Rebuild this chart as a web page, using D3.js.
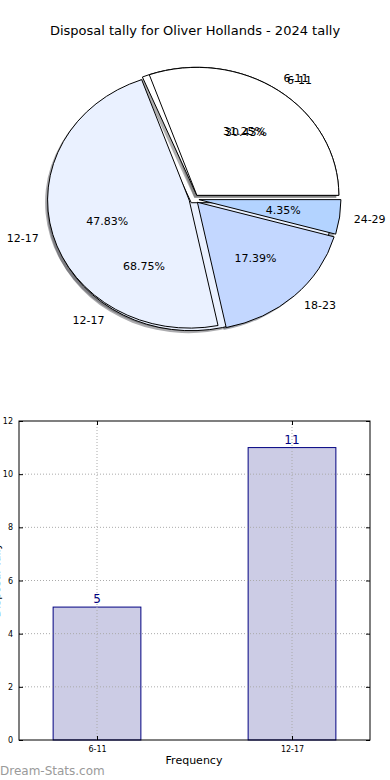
<!DOCTYPE html>
<html>
<head>
<meta charset="utf-8">
<script src="https://cdn.jsdelivr.net/npm/d3@7"></script>
<style>
  body { margin: 0; background: #fff; }
  svg { display: block; font-family: "DejaVu Sans", sans-serif; }
</style>
</head>
<body>
<div id="chart"></div>
<script>
// pie data: two overlaid pies (age groups)
const pieLabelsA = ["6-11", "12-17", "18-23", "24-29"];
const pieValuesA = [7, 11, 4, 1];
const pieLabelsB = ["6-11", "12-17"];
const pieValuesB = [5, 11];
const pieColors = ["#ffffff", "#eaf1ff", "#c3d7ff", "#b3d3ff"];

// bar data
const barCategories = ["6-11", "12-17"];
const barValues = [5, 11];
const yTicks = [0, 2, 4, 6, 8, 10, 12];

(function() {
var W = 390, H = 780;
var svg = d3.select("#chart").append("svg")
    .attr("width", W).attr("height", H);

svg.append("text")
    .attr("x", 195).attr("y", 35)
    .attr("text-anchor", "middle")
    .style("font-size", "13px")
    .text("Disposal tally for Oliver Hollands - 2024 tally");

// ---- pie ----
var cx = 194, cy = 199, rx = 142, ry = 128, explode = 0.035;

// matplotlib style: start at 3 o'clock, counter-clockwise
var pie = d3.pie().sort(null).startAngle(Math.PI / 2).endAngle(Math.PI / 2 - 2 * Math.PI);
var arcUnit = d3.arc().innerRadius(0).outerRadius(1);

function layout(values, labels) {
    var total = d3.sum(values);
    return pie(values).map(function(d, i) {
        var mid = (d.startAngle + d.endAngle) / 2;
        return {
            arc: d, label: labels[i], color: pieColors[i],
            pct: (100 * values[i] / total).toFixed(2) + "%",
            dx: Math.sin(mid), dy: -Math.cos(mid)
        };
    });
}
var slicesB = layout(pieValuesB, pieLabelsB);
var slicesA = layout(pieValuesA, pieLabelsA);
var allSlices = slicesB.concat(slicesA);

function ox(s) { return cx + explode * rx * s.dx; }
function oy(s) { return cy + explode * ry * s.dy; }

var pieG = svg.append("g");
// shadows first (lower z-order)
allSlices.forEach(function(s) {
    var c = d3.rgb(s.color);
    pieG.append("path")
        .attr("d", arcUnit(s.arc))
        .attr("transform", `translate(${ox(s) - 2.5},${oy(s) + 2.5}) scale(${rx},${ry})`)
        .attr("fill", d3.rgb(c.r * 0.3, c.g * 0.3, c.b * 0.3))
        .attr("fill-opacity", 0.45);
});
allSlices.forEach(function(s) {
    pieG.append("path")
        .attr("d", arcUnit(s.arc))
        .attr("transform", `translate(${ox(s)},${oy(s)}) scale(${rx},${ry})`)
        .attr("fill", s.color)
        .attr("stroke", "#000")
        .attr("stroke-width", 1)
        .attr("vector-effect", "non-scaling-stroke");
});
// labels
allSlices.forEach(function(s) {
    pieG.append("text")
        .attr("x", ox(s) + 1.1 * rx * s.dx).attr("y", oy(s) + 1.1 * ry * s.dy)
        .attr("dy", "0.35em")
        .attr("text-anchor", s.dx > 0 ? "start" : "end")
        .style("font-size", "11px")
        .text(s.label);
    pieG.append("text")
        .attr("x", ox(s) + 0.6 * rx * s.dx).attr("y", oy(s) + 0.6 * ry * s.dy)
        .attr("dy", "0.35em")
        .attr("text-anchor", "middle")
        .style("font-size", "11px")
        .text(s.pct);
});

// ---- bar chart ----
var pl = 19, pr = 370, pt = 421, pb = 740;
var x = d3.scaleLinear().domain([-0.4, 1.4]).range([pl, pr]);
var y = d3.scaleLinear().domain([0, 12]).range([pb, pt]);
var barW = 0.45;

var g = svg.append("g");

// bars
g.selectAll(".bar").data(barValues).enter().append("rect")
    .attr("x", (d, i) => x(i - barW / 2))
    .attr("width", x(barW) - x(0))
    .attr("y", d => y(d))
    .attr("height", d => pb - y(d))
    .attr("fill", "#ccccE5")
    .attr("stroke", "#000080")
    .attr("stroke-width", 1);

// dotted grid on top of bars
g.selectAll(".hgrid").data(yTicks.slice(1, -1)).enter().append("line")
    .attr("x1", pl).attr("x2", pr)
    .attr("y1", d => y(d)).attr("y2", d => y(d))
    .attr("stroke", "#aaa").attr("stroke-dasharray", "1,2");
g.selectAll(".vgrid").data(barCategories).enter().append("line")
    .attr("x1", (d, i) => x(i)).attr("x2", (d, i) => x(i))
    .attr("y1", pt).attr("y2", pb)
    .attr("stroke", "#aaa").attr("stroke-dasharray", "1,2");

// value labels
g.selectAll(".val").data(barValues).enter().append("text")
    .attr("x", (d, i) => x(i)).attr("y", d => y(d) - 4)
    .attr("text-anchor", "middle")
    .attr("fill", "#000080")
    .style("font-size", "12px")
    .text(d => d);

// axes: ticks inside, on all sides
g.append("g").attr("transform", `translate(${pl},0)`)
    .call(d3.axisLeft(y).tickValues(yTicks).tickSizeInner(-4).tickSizeOuter(0).tickPadding(6))
    .call(a => a.select(".domain").remove())
    .selectAll("text").style("font-size", "8px").style("font-family", "DejaVu Sans");
g.append("g").attr("transform", `translate(${pr},0)`)
    .call(d3.axisRight(y).tickValues(yTicks).tickSizeInner(-4).tickSizeOuter(0).tickFormat(""))
    .call(a => a.select(".domain").remove());
g.append("g").attr("transform", `translate(0,${pb})`)
    .call(d3.axisBottom(x).tickValues([0, 1]).tickFormat(i => barCategories[i]).tickSizeInner(-4).tickSizeOuter(0).tickPadding(6))
    .call(a => a.select(".domain").remove())
    .selectAll("text").style("font-size", "8px").style("font-family", "DejaVu Sans");
g.append("g").attr("transform", `translate(0,${pt})`)
    .call(d3.axisTop(x).tickValues([0, 1]).tickSizeInner(-4).tickSizeOuter(0).tickFormat(""))
    .call(a => a.select(".domain").remove());

g.append("rect")
    .attr("x", pl).attr("y", pt)
    .attr("width", pr - pl).attr("height", pb - pt)
    .attr("fill", "none").attr("stroke", "#000").attr("stroke-width", 1);

svg.append("text")
    .attr("x", 194).attr("y", 764)
    .attr("text-anchor", "middle")
    .style("font-size", "11px")
    .text("Frequency");

// y label, clipped at the left edge as in the original
svg.append("text")
    .attr("transform", "translate(0,580) rotate(-90)")
    .attr("text-anchor", "middle")
    .style("font-size", "11px")
    .text("Disposal Tally");

svg.append("text")
    .attr("x", 0).attr("y", 775)
    .attr("fill", "#9a9a9a")
    .style("font-size", "12px")
    .text("Dream-Stats.com");
})();
</script>
</body>
</html>
